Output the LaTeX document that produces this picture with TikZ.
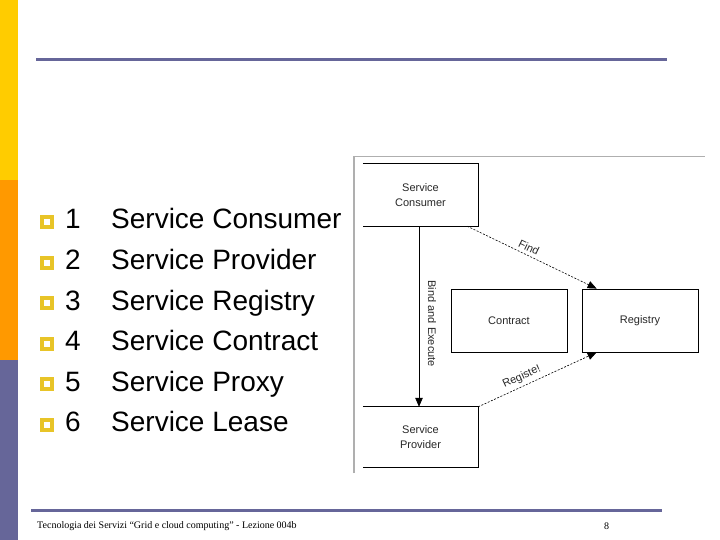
\documentclass[tikz,border=0pt]{standalone}
\usepackage{fontspec}
\setmainfont{Liberation Sans}
\newfontfamily\timesf{Liberation Serif}
\usetikzlibrary{arrows.meta,calc}
\definecolor{barY}{RGB}{255,204,0}
\definecolor{barO}{RGB}{255,153,0}
\definecolor{slate}{RGB}{102,102,153}
\definecolor{bulletc}{RGB}{232,196,40}
\definecolor{framegray}{RGB}{175,175,175}
\definecolor{diagtext}{RGB}{40,40,40}
\begin{document}
\begin{tikzpicture}[x=1pt,y=-1pt,
  bulletbox/.style={draw=bulletc, line width=4pt, minimum size=10pt, inner sep=0pt, fill=white},
  numtxt/.style={anchor=base west, inner sep=0pt, font=\fontsize{28}{28}\selectfont},
  itemtxt/.style={anchor=base west, inner sep=0pt, font=\fontsize{28}{28}\selectfont},
  foottxt/.style={anchor=base west, inner sep=0pt, font=\timesf\fontsize{10}{10}\selectfont},
  boxnode/.style={draw=black, line width=0.8pt, minimum width=116pt, minimum height=63pt, inner sep=0pt,
    text=diagtext, align=center, font=\fontsize{11}{14.5}\selectfont},
  openbox/.style={minimum width=115pt, inner sep=0pt, text=diagtext, align=center,
    font=\fontsize{11}{14.5}\selectfont},
  boxside/.style={draw=black, line width=0.8pt},
  lbl/.style={text=diagtext, font=\fontsize{11}{12}\selectfont},
  solidarrow/.style={draw=black, line width=0.8pt, -{Triangle[length=9pt,width=7.5pt]}},
  dasharrow/.style={draw=black, line width=0.6pt, dash pattern=on 2pt off 1.5pt, -{Triangle[length=9pt,width=7.5pt]}}
]
\useasboundingbox (0,0) rectangle (720,540);
\fill[white] (0,0) rectangle (720,540);
% side bar
\fill[barY] (0,0) rectangle (18,180);
\fill[barO] (0,180) rectangle (18,360);
\fill[slate] (0,360) rectangle (18,540);
% rules
\fill[slate] (36,58.5) rectangle (667,61.5);
\fill[slate] (31,509) rectangle (662,512);

% bullet list
\foreach \i/\t in {1/Service Consumer,2/Service Provider,3/Service Registry,4/Service Contract,5/Service Proxy,6/Service Lease}{
  \node[bulletbox] (b\i) at (47,{222+40.5*(\i-1)}) {};
  \node[numtxt] (n\i) at (65,{229+40.5*(\i-1)}) {\i};
  \node[itemtxt] (t\i) at (111,{229+40.5*(\i-1)}) {\t};
}

% diagram frame
\draw[framegray, line width=1.2pt] (354,473) -- (354,156.5) -- (705,156.5);

% boxes
\node[openbox, minimum height=62pt] (cons) at (420.5,195) {Service\\Consumer};
\draw[boxside] (cons.north west) -- (cons.north east) -- (cons.south east) -- (cons.south west);
\node[openbox, minimum height=60pt] (prov) at (420.5,437) {Service\\Provider};
\draw[boxside] (prov.north west) -- (prov.north east) -- (prov.south east) -- (prov.south west);
\node[boxnode] (contract) at (509,320.5) {Contract};
\node[boxnode] (registry) at (640,320.5) {Registry};

% connectors
\draw[solidarrow] ([xshift=-1.5pt]cons.south) -- ([xshift=-1.5pt]prov.north)
  node[pos=0.54, rotate=-90, anchor=south, inner sep=0pt, outer sep=9pt, lbl] {Bind and Execute};
\draw[dasharrow] ([xshift=-11pt]cons.south east) -- ([xshift=15pt]registry.north west)
  node[pos=0.45, rotate=-25.8, anchor=south, inner sep=3.5pt, lbl] {Find};
\draw[dasharrow] (prov.north east) -- ([xshift=15pt]registry.south west)
  node[pos=0.4, rotate=24.8, anchor=south, inner sep=3.5pt, lbl] {Registe!};

% footer
\node[foottxt] (foot) at (37,528) {Tecnologia dei Servizi “Grid e cloud computing” - Lezione 004b};
\node[foottxt] (page) at (604,529) {8};
\end{tikzpicture}
\end{document}
